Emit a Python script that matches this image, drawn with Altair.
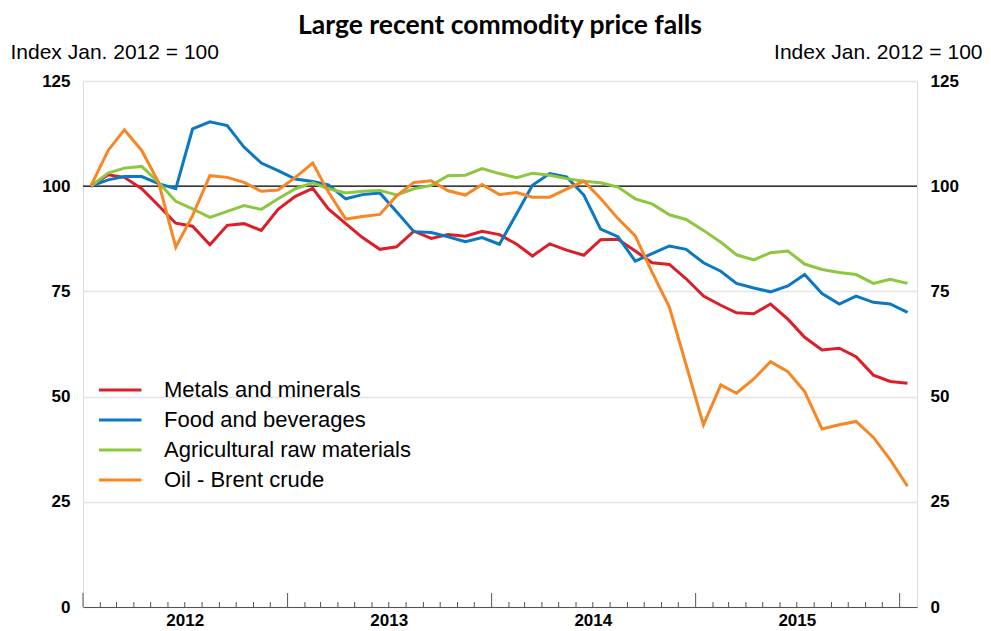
import altair as alt
import pandas as pd

# ---------------- data ----------------
months = pd.date_range("2012-01-01", periods=49, freq="MS") + pd.Timedelta(days=14)

series_names = ["Metals and minerals", "Food and beverages",
                "Agricultural raw materials", "Oil - Brent crude"]
colors = ["#dc1e28", "#0a78c3", "#8dc63f", "#f78624"]

metals = [100, 102.7, 102.1, 99.4, 95.4, 91.2, 90.5, 86.1, 90.7, 91.1, 89.5, 94.5,
          97.6, 99.5, 94.6, 91.1, 87.8, 85.0, 85.6, 89.3, 87.6, 88.5, 88.1, 89.3,
          88.5, 86.2, 83.4, 86.3, 84.8, 83.6, 87.3, 87.4, 84.6, 81.8, 81.4, 78.0,
          73.9, 71.7, 69.9, 69.7, 72.0, 68.4, 64.1, 61.1, 61.5, 59.5, 55.1, 53.6, 53.2]
food = [100, 101.5, 102.3, 102.3, 100.6, 99.4, 113.6, 115.3, 114.4, 109.3, 105.5, 103.7,
        101.7, 101.1, 100.3, 97.0, 98.0, 98.4, 93.9, 89.2, 89.0, 88.0, 86.8, 87.8,
        86.2, 93.5, 100.2, 103.0, 102.2, 97.9, 89.8, 88.0, 82.2, 84.0, 85.8, 85.0,
        81.8, 79.8, 76.9, 75.8, 74.9, 76.3, 79.0, 74.5, 72.0, 73.9, 72.4, 72.0, 70.0]
agri = [100, 103.1, 104.3, 104.7, 100.9, 96.4, 94.6, 92.6, 94.0, 95.4, 94.5, 97.0,
        99.4, 100.8, 99.4, 98.4, 98.8, 99.0, 97.9, 99.4, 100.2, 102.5, 102.6, 104.2,
        103.0, 102.0, 103.1, 102.6, 101.8, 101.2, 100.8, 99.8, 97.0, 95.8, 93.2, 92.1,
        89.5, 86.7, 83.7, 82.5, 84.2, 84.6, 81.5, 80.2, 79.5, 79.0, 76.9, 77.9, 76.9]
oil = [100, 108.5, 113.4, 108.5, 101.0, 85.5, 93.0, 102.5, 102.1, 100.9, 98.8, 99.1,
       102.1, 105.5, 98.6, 92.2, 92.8, 93.3, 97.7, 100.9, 101.3, 98.9, 97.9, 100.4,
       98.0, 98.5, 97.4, 97.4, 99.3, 101.2, 97.1, 92.3, 88.2, 79.6, 71.3, 57.5,
       43.3, 52.8, 50.8, 54.2, 58.3, 55.9, 51.2, 42.3, 43.3, 44.1, 40.3, 35.0, 28.7]

y_ticks = [0, 25, 50, 75, 100, 125]
year_labels = [2012, 2013, 2014, 2015]
reference_level = [100]

rows = []
for name, vals in zip(series_names, [metals, food, agri, oil]):
    for d, v in zip(months, vals):
        rows.append({"date": d, "series": name, "value": v})
df = pd.DataFrame(rows)

tick_dates = pd.date_range("2012-01-01", "2016-01-01", freq="MS")
ticks_df = pd.DataFrame({"date": tick_dates, "major": tick_dates.month == 1})

# ---------------- layout ----------------
W, H = 834, 526
FONT = "Liberation Sans"

x_scale = alt.Scale(domain=[alt.DateTime(year=2012, month=1, date=1),
                            alt.DateTime(year=2016, month=2, date=1)])
y_scale = alt.Scale(domain=[0, 125], nice=False, zero=True)

x_axis = alt.Axis(values=[alt.DateTime(year=y, month=7, date=1) for y in year_labels],
                  format="%Y", ticks=False, grid=False, title=None,
                  labelFont=FONT, labelFontSize=17, labelFontWeight="bold",
                  labelColor="black", labelPadding=5,
                  domainColor="#555555", domainWidth=1)


def y_axis(orient, tx, align):
    return alt.Axis(orient=orient, values=y_ticks, ticks=False, domain=False,
                    grid=(orient == "left"), gridColor="#e4e4e4", gridWidth=1.5,
                    labelFont=FONT, labelFontSize=17, labelFontWeight="bold",
                    labelColor="black", labelPadding=13,
                    title="Index Jan. 2012 = 100", titleAngle=0,
                    titleAlign=align, titleBaseline="alphabetic",
                    titleX=tx, titleY=-23, titleFont=FONT, titleFontSize=21,
                    titleFontWeight="normal", titleColor="black")


ref = alt.Chart(pd.DataFrame({"ref": reference_level})).mark_rule(
    color="black", strokeWidth=1.2
).encode(y=alt.Y("ref:Q", scale=y_scale, axis=y_axis("left", -73, "left")))

lines = alt.Chart(df).mark_line(strokeWidth=3).encode(
    x=alt.X("date:T", scale=x_scale, axis=x_axis),
    y=alt.Y("value:Q", scale=y_scale, axis=y_axis("right", 65, "right")),
    color=alt.Color("series:N",
                    scale=alt.Scale(domain=series_names, range=colors),
                    sort=series_names,
                    legend=alt.Legend(orient="none", legendX=5, legendY=298,
                                      title=None, symbolType="M0,0H6",
                                      symbolSize=200, symbolStrokeWidth=3,
                                      labelFont=FONT, labelFontSize=22,
                                      labelColor="black", labelOffset=54,
                                      labelLimit=0,
                                      rowPadding=8, padding=0)),
)

major_ticks = alt.Chart(ticks_df).transform_filter("datum.major").mark_rule(
    color="#555555", strokeWidth=1
).encode(x=alt.X("date:T", scale=x_scale), y=alt.value(H), y2=alt.value(H - 14))

minor_ticks = alt.Chart(ticks_df).transform_filter("!datum.major").mark_rule(
    color="#555555", strokeWidth=1
).encode(x=alt.X("date:T", scale=x_scale), y=alt.value(H), y2=alt.value(H - 5))

chart = alt.layer(ref, major_ticks, minor_ticks, lines).resolve_axis(
    y="independent"
).properties(
    width=W, height=H,
    title=alt.TitleParams("Large recent commodity price falls", font="Lato",
                          fontSize=26.5, fontWeight="bold", color="black",
                          anchor="middle", frame="group", offset=2),
    autosize=alt.AutoSizeParams(type="none"),
    padding={"left": 75, "top": 73, "right": 66, "bottom": 22},
).configure_view(stroke=None).configure(background="white")

chart.save("out.html", embed_options={"renderer": "svg", "actions": False})
